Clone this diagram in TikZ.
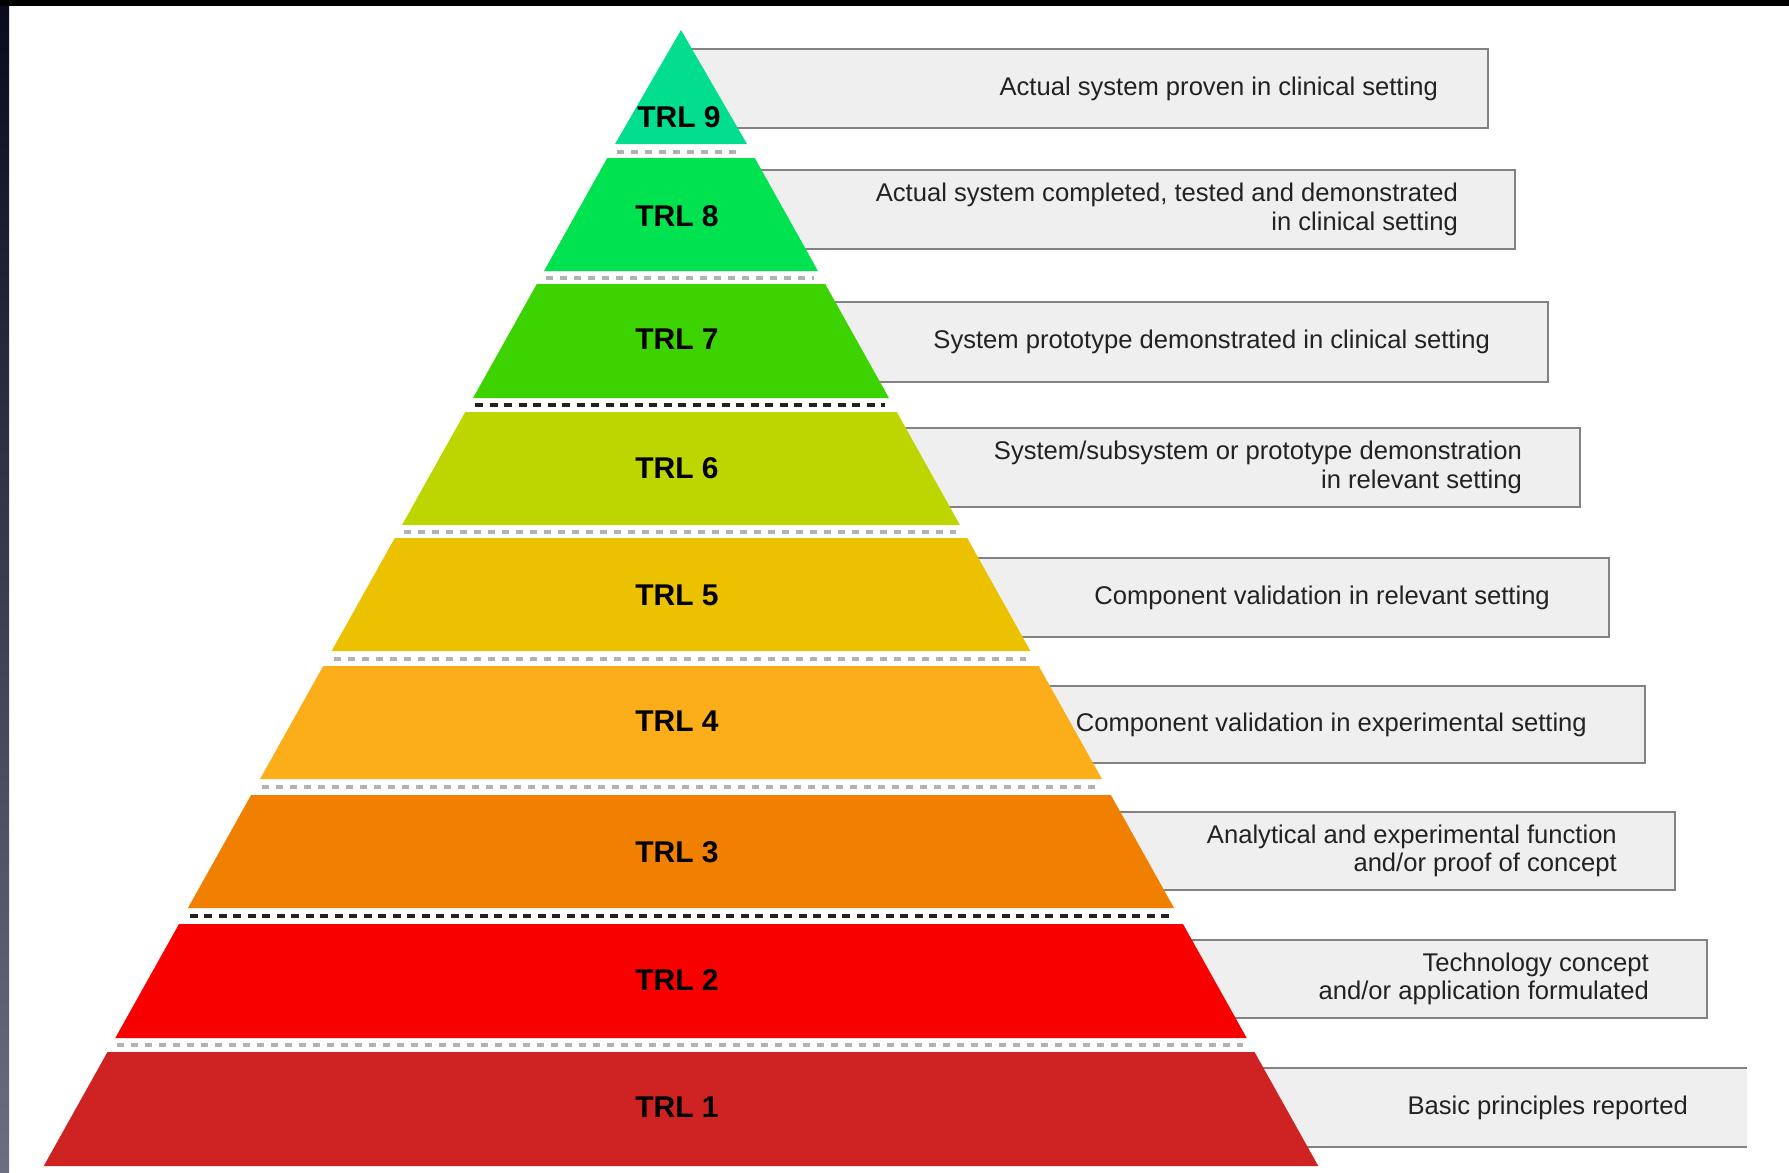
\documentclass[tikz,border=0pt]{standalone}
\usepackage{fontspec}
\setmainfont{Liberation Sans}
\definecolor{cnine}{RGB}{0,222,142}
\definecolor{ceight}{RGB}{0,226,80}
\definecolor{cseven}{RGB}{61,211,0}
\definecolor{csix}{RGB}{190,214,0}
\definecolor{cfive}{RGB}{236,194,0}
\definecolor{cfour}{RGB}{251,174,25}
\definecolor{cthree}{RGB}{242,128,0}
\definecolor{ctwo}{RGB}{248,0,0}
\definecolor{cone}{RGB}{207,35,35}
\definecolor{boxfill}{RGB}{239,239,239}
\definecolor{boxedge}{RGB}{130,130,130}
\definecolor{dashgray}{RGB}{178,178,178}
\definecolor{dashdark}{RGB}{34,34,34}
\definecolor{txt}{RGB}{34,34,34}
\newcommand\hwd[1]{0.559*(#1-26)}
\newcommand\trlband[3]{%
  \fill[#3] ({681-\hwd{#1}},#1) -- ({681+\hwd{#1}},#1) -- ({681+\hwd{#2}},#2) -- ({681-\hwd{#2}},#2) -- cycle;}
\newcommand\gapline[3]{%
  \draw[#3] ({681-\hwd{#1}+2},#2) -- ({681+\hwd{#1}-4},#2);}
\newcommand\infobox[3]{%
  \fill[boxfill] (681,#1) rectangle (#3,#2);
  \draw[boxline] (681,#1) -- (#3,#1) -- (#3,#2) -- (681,#2);}
\begin{document}
\begin{tikzpicture}[x=1pt,y=-1pt,
  boxline/.style={draw=boxedge,line width=2.5pt},
  graydash/.style={draw=dashgray,line width=4pt,dash pattern=on 7pt off 7pt},
  darkdash/.style={draw=dashdark,line width=4.5pt,dash pattern=on 8pt off 6.5pt},
  trllabel/.style={font=\fontsize{30}{32}\selectfont\bfseries,text=black,inner sep=0pt,anchor=center},
  desc/.style={font=\fontsize{25.6}{28.5}\selectfont,text=txt,inner sep=0pt,anchor=east,align=right}]
\useasboundingbox (0,0) rectangle (1789,1173);
\fill[white] (0,0) rectangle (1789,1173);
% frame
\shade[top color={rgb,255:red,10;green,10;blue,30},bottom color={rgb,255:red,110;green,110;blue,130}] (0,0) rectangle (9,1173);
\fill[black] (0,0) rectangle (1789,6);
% boxes
\infobox{49}{128}{1488}
\infobox{170}{249}{1515}
\infobox{302}{382}{1548}
\infobox{428}{507}{1580}
\infobox{558}{637}{1609}
\infobox{686}{763}{1645}
\infobox{812}{890}{1675}
\infobox{940}{1018}{1707}
\fill[boxfill] (681,1068) rectangle (1747,1147);
\draw[boxline] (681,1068) -- (1747,1068);
\draw[boxline] (681,1147) -- (1747,1147);
% pyramid
\fill[cnine] (681,30) -- ({681+\hwd{144}},144) -- ({681-\hwd{144}},144) -- cycle;
\trlband{158}{271}{ceight}
\trlband{284}{398}{cseven}
\trlband{412}{525}{csix}
\trlband{538}{651}{cfive}
\trlband{666}{779}{cfour}
\trlband{795}{908}{cthree}
\trlband{924}{1038}{ctwo}
\trlband{1052}{1166}{cone}
% separators
\gapline{144}{152}{graydash}
\gapline{271}{277.5}{graydash}
\gapline{398}{405}{darkdash}
\gapline{525}{531.5}{graydash}
\gapline{651}{658.5}{graydash}
\gapline{779}{787}{graydash}
\gapline{908}{916}{darkdash}
\gapline{1038}{1045}{graydash}
% labels
\node[trllabel] (l9) at (679,117) {TRL 9};
\node[trllabel] (l8) at (677,216) {TRL 8};
\node[trllabel] (l7) at (677,339) {TRL 7};
\node[trllabel] (l6) at (677,468) {TRL 6};
\node[trllabel] (l5) at (677,595) {TRL 5};
\node[trllabel] (l4) at (677,721) {TRL 4};
\node[trllabel] (l3) at (677,852) {TRL 3};
\node[trllabel] (l2) at (677,980) {TRL 2};
\node[trllabel] (l1) at (677,1107) {TRL 1};
% descriptions
\node[desc] (d9) at (1438,88.5) {Actual system proven in clinical setting};
\node[desc] (d8) at (1458,209.5) {Actual system completed, tested and demonstrated\\in clinical setting};
\node[desc] (d7) at (1490,342) {System prototype demonstrated in clinical setting};
\node[desc] (d6) at (1522,467.5) {System/subsystem or prototype demonstration\\in relevant setting};
\node[desc] (d5) at (1550,597.5) {Component validation in relevant setting};
\node[desc] (d4) at (1587,724.5) {Component validation in experimental setting};
\node[desc] (d3) at (1617,851) {Analytical and experimental function\\and/or proof of concept};
\node[desc] (d2) at (1649,979) {Technology concept\\and/or application formulated};
\node[desc] (d1) at (1688,1107.5) {Basic principles reported};
\end{tikzpicture}
\end{document}
